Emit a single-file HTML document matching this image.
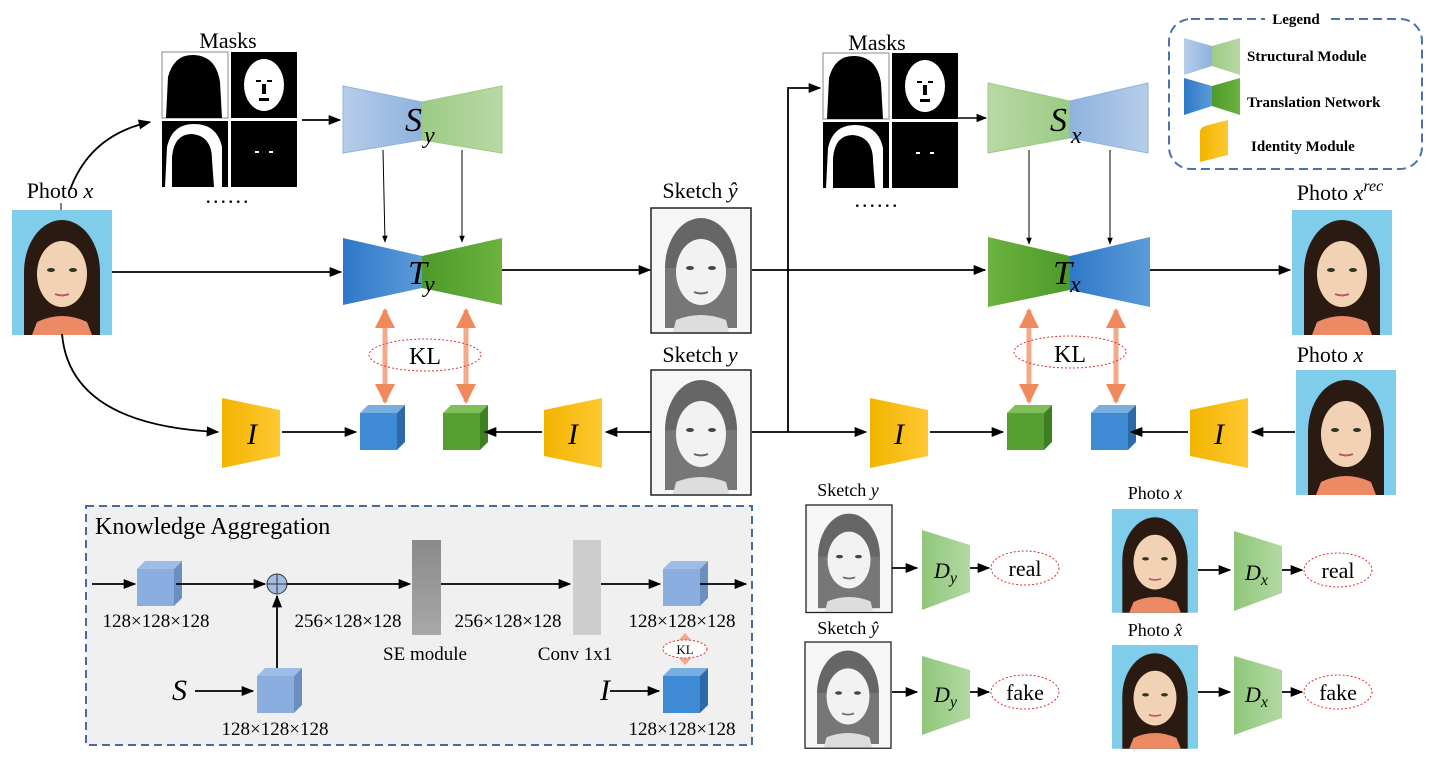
<!DOCTYPE html>
<html><head><meta charset="utf-8"><style>html,body{margin:0;padding:0;background:#fff}svg{display:block}text{font-family:"Liberation Serif",serif}</style></head>
<body>
<svg width="1431" height="757" viewBox="0 0 1431 757" xmlns="http://www.w3.org/2000/svg">
<defs>
<linearGradient id="lb" x1="0" x2="1"><stop offset="0" stop-color="#b6cde9"/><stop offset="1" stop-color="#8fb2dd"/></linearGradient>
<linearGradient id="lbr" x1="1" x2="0"><stop offset="0" stop-color="#b6cde9"/><stop offset="1" stop-color="#8fb2dd"/></linearGradient>
<linearGradient id="lg" x1="1" x2="0"><stop offset="0" stop-color="#b9d8a6"/><stop offset="1" stop-color="#9ccb85"/></linearGradient>
<linearGradient id="lgl" x1="0" x2="1"><stop offset="0" stop-color="#b9d8a6"/><stop offset="1" stop-color="#9ccb85"/></linearGradient>
<linearGradient id="db" x1="0" x2="1"><stop offset="0" stop-color="#2f78c8"/><stop offset="1" stop-color="#5b9bd8"/></linearGradient>
<linearGradient id="dbr" x1="1" x2="0"><stop offset="0" stop-color="#5b9bd8"/><stop offset="1" stop-color="#2f78c8"/></linearGradient>
<linearGradient id="dg" x1="0" x2="1"><stop offset="0" stop-color="#4c9a2a"/><stop offset="1" stop-color="#6cb23f"/></linearGradient>
<linearGradient id="dgl" x1="0" x2="1"><stop offset="0" stop-color="#6cb23f"/><stop offset="1" stop-color="#4c9a2a"/></linearGradient>
<linearGradient id="yl" x1="0" x2="1"><stop offset="0" stop-color="#f2b400"/><stop offset="1" stop-color="#ffc832"/></linearGradient>
<linearGradient id="dgr" x1="0" x2="1"><stop offset="0" stop-color="#8fc77a"/><stop offset="1" stop-color="#b3d9a2"/></linearGradient>
<linearGradient id="se" x1="0" x2="0" y1="0" y2="1"><stop offset="0" stop-color="#8a8a8a"/><stop offset="1" stop-color="#a8a8a8"/></linearGradient>
<marker id="a" viewBox="0 0 10 10" refX="9" refY="5" markerWidth="7" markerHeight="7" orient="auto"><path d="M0,1 L10,5 L0,9 z" fill="#000"/></marker>
<marker id="oa" viewBox="0 0 10 10" refX="9" refY="5" markerWidth="4" markerHeight="4" orient="auto-start-reverse"><path d="M0,0 L10,5 L0,10 z" fill="#f08a5d"/></marker>
<g id="photo">
<rect width="100" height="125" fill="#7fcdea"/>
<ellipse cx="50" cy="62" rx="38" ry="52" fill="#2a1a12"/>
<rect x="12" y="62" width="76" height="63" fill="#2a1a12"/>
<ellipse cx="50" cy="64" rx="25" ry="33" fill="#f2d2b4"/>
<path d="M25,112 Q50,100 75,112 L80,125 L20,125z" fill="#ec8a66"/>
<ellipse cx="39" cy="60" rx="4" ry="2" fill="#332"/><ellipse cx="61" cy="60" rx="4" ry="2" fill="#332"/>
<path d="M43,84 Q50,87 57,84" stroke="#b56" stroke-width="2" fill="none"/>
</g>
<g id="sketch">
<rect width="100" height="125" fill="#f6f6f6" stroke="#222" stroke-width="1.5"/>
<ellipse cx="50" cy="60" rx="36" ry="50" fill="#666"/>
<rect x="14" y="60" width="72" height="60" fill="#777"/>
<ellipse cx="50" cy="64" rx="25" ry="33" fill="#f2f2f2"/>
<path d="M25,112 Q50,102 75,112 L78,124 L22,124z" fill="#ddd"/>
<ellipse cx="39" cy="60" rx="4" ry="2" fill="#444"/><ellipse cx="61" cy="60" rx="4" ry="2" fill="#444"/>
<path d="M43,84 Q50,87 57,84" stroke="#666" stroke-width="2" fill="none"/>
</g>
<g id="masks">
<rect x="0" y="0" width="66" height="66" fill="#fff" stroke="#888"/>
<path d="M4,66 L6,25 Q12,2 32,3 Q54,4 58,30 L60,66z" fill="#000"/>
<rect x="69" y="0" width="66" height="66" fill="#000"/>
<ellipse cx="102" cy="33" rx="20" ry="26" fill="#fff"/>
<rect x="94" y="28" width="5" height="2" fill="#000"/><rect x="105" y="28" width="5" height="2" fill="#000"/><rect x="100" y="32" width="4" height="10" fill="#000"/><rect x="97" y="46" width="10" height="3" fill="#000"/>
<rect x="0" y="69" width="66" height="66" fill="#000"/>
<path d="M3,135 L5,95 Q10,72 32,72 Q55,72 60,95 L60,135z" fill="#fff"/>
<path d="M10,135 L10,105 Q12,82 30,82 Q50,84 50,108 L52,135z" fill="#000"/>
<rect x="69" y="69" width="66" height="66" fill="#000"/>
<rect x="93" y="99" width="4" height="2" fill="#fff"/><rect x="107" y="99" width="4" height="2" fill="#fff"/>
</g>
<g id="cubeB"><path d="M0,8 L8,0 L45,0 L37,8z" fill="#7aaee0"/><path d="M37,8 L45,0 L45,37 L37,45z" fill="#2f6aa8"/><rect x="0" y="8" width="37" height="37" fill="#3f8ad4"/></g>
<g id="cubeG"><path d="M0,8 L8,0 L45,0 L37,8z" fill="#7fbf5a"/><path d="M37,8 L45,0 L45,37 L37,45z" fill="#3e7f22"/><rect x="0" y="8" width="37" height="37" fill="#55a030"/></g>
<g id="cubeL"><path d="M0,8 L8,0 L45,0 L37,8z" fill="#9dbde6"/><path d="M37,8 L45,0 L45,37 L37,45z" fill="#6b8fc0"/><rect x="0" y="8" width="37" height="37" fill="#8aaee0"/></g>
</defs>

<!-- LEFT TOP -->
<text x="228" y="48" font-size="22" text-anchor="middle">Masks</text>
<use href="#masks" x="162" y="52"/>
<text x="228" y="203" font-size="22" text-anchor="middle" letter-spacing="2">......</text>
<text x="60" y="198" font-size="22" text-anchor="middle">Photo <tspan font-style="italic">x</tspan></text>
<use href="#photo" x="12" y="210"/>
<line x1="61" y1="203" x2="61" y2="210" stroke="#000"/>
<path d="M70,190 Q90,135 150,122" stroke="#000" stroke-width="1.8" fill="none" marker-end="url(#a)"/>
<line x1="302" y1="120" x2="340" y2="120" stroke="#000" stroke-width="1.8" marker-end="url(#a)"/>

<path d="M343,86 L422,102 L422,140 L343,153z" fill="url(#lb)" stroke="#8fb2dd"/>
<path d="M422,102 L502,86 L502,153 L422,140z" fill="url(#lg)" stroke="#9ccb85"/>
<text x="405" y="131" font-size="34" font-style="italic">S</text><text x="424" y="143" font-size="24" font-style="italic">y</text>
<line x1="383" y1="150" x2="385" y2="242" stroke="#000" marker-end="url(#a)"/>
<line x1="462" y1="150" x2="462" y2="242" stroke="#000" marker-end="url(#a)"/>
<path d="M343,238 L422,256 L422,288 L343,305z" fill="url(#db)"/>
<path d="M422,256 L502,238 L502,305 L422,288z" fill="url(#dg)"/>
<text x="408" y="284" font-size="34" font-style="italic">T</text><text x="424" y="292" font-size="24" font-style="italic">y</text>
<line x1="112" y1="272" x2="341" y2="272" stroke="#000" stroke-width="1.8" marker-end="url(#a)"/>
<line x1="502" y1="270" x2="650" y2="270" stroke="#000" stroke-width="1.8" marker-end="url(#a)"/>

<line x1="385" y1="310" x2="385" y2="402" stroke="#f4a98a" stroke-width="5" marker-start="url(#oa)" marker-end="url(#oa)"/>
<line x1="466" y1="310" x2="466" y2="402" stroke="#f4a98a" stroke-width="5" marker-start="url(#oa)" marker-end="url(#oa)"/>
<ellipse cx="425" cy="355" rx="56" ry="16" fill="none" stroke="#e03030" stroke-dasharray="2,2"/>
<text x="425" y="364" font-size="24" text-anchor="middle">KL</text>

<path d="M62,334 Q70,425 218,432" stroke="#000" stroke-width="1.8" fill="none" marker-end="url(#a)"/>
<path d="M222,398 L280,410 L280,456 L222,468z" fill="url(#yl)"/>
<text x="252" y="444" font-size="30" font-style="italic" text-anchor="middle">I</text>
<line x1="282" y1="432" x2="356" y2="432" stroke="#000" stroke-width="1.8" marker-end="url(#a)"/>
<use href="#cubeB" x="360" y="405"/>
<use href="#cubeG" x="443" y="405"/>
<path d="M544,410 L602,398 L602,468 L544,456z" fill="url(#yl)"/>
<text x="573" y="444" font-size="30" font-style="italic" text-anchor="middle">I</text>
<line x1="542" y1="432" x2="485" y2="432" stroke="#000" stroke-width="1.8" marker-end="url(#a)"/>
<line x1="652" y1="432" x2="606" y2="432" stroke="#000" stroke-width="1.8" marker-end="url(#a)"/>

<!-- sketches center -->
<text x="700" y="198" font-size="22" text-anchor="middle">Sketch <tspan font-style="italic">ŷ</tspan></text>
<use href="#sketch" x="651" y="208"/>
<text x="700" y="362" font-size="22" text-anchor="middle">Sketch <tspan font-style="italic">y</tspan></text>
<use href="#sketch" x="651" y="370"/>

<!-- RIGHT TOP -->
<line x1="752" y1="270" x2="985" y2="270" stroke="#000" stroke-width="1.8" marker-end="url(#a)"/>
<line x1="752" y1="432" x2="866" y2="432" stroke="#000" stroke-width="1.8" marker-end="url(#a)"/>
<polyline points="788,432 788,88 820,88" stroke="#000" stroke-width="1.8" fill="none" marker-end="url(#a)"/>
<text x="877" y="50" font-size="22" text-anchor="middle">Masks</text>
<use href="#masks" x="823" y="53"/>
<text x="877" y="207" font-size="22" text-anchor="middle" letter-spacing="2">......</text>
<line x1="958" y1="118" x2="986" y2="118" stroke="#000" stroke-width="1.5" marker-end="url(#a)"/>

<path d="M988,83 L1070,101 L1070,138 L988,153z" fill="url(#lgl)" stroke="#9ccb85"/>
<path d="M1070,101 L1148,83 L1148,153 L1070,138z" fill="url(#lbr)" stroke="#8fb2dd"/>
<text x="1050" y="131" font-size="34" font-style="italic">S</text><text x="1071" y="143" font-size="24" font-style="italic">x</text>
<line x1="1029" y1="150" x2="1029" y2="244" stroke="#000" marker-end="url(#a)"/>
<line x1="1110" y1="150" x2="1110" y2="244" stroke="#000" marker-end="url(#a)"/>
<path d="M988,237 L1070,256 L1070,290 L988,307z" fill="url(#dgl)"/>
<path d="M1070,256 L1150,237 L1150,307 L1070,290z" fill="url(#dbr)"/>
<text x="1053" y="284" font-size="34" font-style="italic">T</text><text x="1070" y="292" font-size="24" font-style="italic">x</text>
<line x1="1150" y1="270" x2="1290" y2="270" stroke="#000" stroke-width="1.8" marker-end="url(#a)"/>

<line x1="1029" y1="310" x2="1029" y2="402" stroke="#f4a98a" stroke-width="5" marker-start="url(#oa)" marker-end="url(#oa)"/>
<line x1="1116" y1="310" x2="1116" y2="402" stroke="#f4a98a" stroke-width="5" marker-start="url(#oa)" marker-end="url(#oa)"/>
<ellipse cx="1070" cy="352" rx="56" ry="16" fill="none" stroke="#e03030" stroke-dasharray="2,2"/>
<text x="1070" y="362" font-size="24" text-anchor="middle">KL</text>

<path d="M870,398 L928,410 L928,456 L870,468z" fill="url(#yl)"/>
<text x="899" y="444" font-size="30" font-style="italic" text-anchor="middle">I</text>
<line x1="930" y1="432" x2="1003" y2="432" stroke="#000" stroke-width="1.8" marker-end="url(#a)"/>
<use href="#cubeG" x="1007" y="405"/>
<use href="#cubeB" x="1091" y="405"/>
<path d="M1190,410 L1248,398 L1248,468 L1190,456z" fill="url(#yl)"/>
<text x="1219" y="444" font-size="30" font-style="italic" text-anchor="middle">I</text>
<line x1="1188" y1="432" x2="1131" y2="432" stroke="#000" stroke-width="1.8" marker-end="url(#a)"/>
<line x1="1295" y1="432" x2="1252" y2="432" stroke="#000" stroke-width="1.8" marker-end="url(#a)"/>

<text x="1340" y="200" font-size="22" text-anchor="middle">Photo <tspan font-style="italic">x</tspan><tspan font-style="italic" font-size="16" dy="-9">rec</tspan></text>
<use href="#photo" x="1292" y="210"/>
<text x="1330" y="362" font-size="22" text-anchor="middle">Photo <tspan font-style="italic">x</tspan></text>
<use href="#photo" x="1296" y="370"/>

<!-- Legend -->
<rect x="1169" y="19" width="253" height="150" rx="22" fill="none" stroke="#4a72b0" stroke-width="2" stroke-dasharray="9,5"/>
<rect x="1265" y="8" width="62" height="20" fill="#fff"/>
<text x="1296" y="24" font-size="15" font-weight="bold" text-anchor="middle">Legend</text>
<path d="M1184,38 L1212,46 L1212,66 L1184,75z" fill="url(#lb)"/><path d="M1212,46 L1240,38 L1240,75 L1212,66z" fill="url(#lg)"/>
<text x="1247" y="61" font-size="15" font-weight="bold">Structural Module</text>
<path d="M1184,78 L1212,86 L1212,106 L1184,115z" fill="url(#db)"/><path d="M1212,86 L1240,78 L1240,115 L1212,106z" fill="url(#dg)"/>
<text x="1247" y="107" font-size="15" font-weight="bold">Translation Network</text>
<path d="M1200,162 L1200,132 Q1200,128 1205,126 L1228,120 L1228,155z" fill="url(#yl)"/>
<text x="1251" y="151" font-size="15" font-weight="bold">Identity Module</text>

<!-- Discriminators -->
<text x="848" y="496" font-size="18" text-anchor="middle">Sketch <tspan font-style="italic">y</tspan></text>
<use href="#sketch" transform="translate(806,505) scale(0.86,0.86)"/>
<line x1="892" y1="568" x2="917" y2="568" stroke="#000" stroke-width="1.8" marker-end="url(#a)"/>
<path d="M922,530 L970,545 L970,592 L922,610z" fill="url(#dgr)"/>
<text x="934" y="578" font-size="22" font-style="italic">D<tspan font-size="16" dy="5">y</tspan></text>
<line x1="970" y1="568" x2="989" y2="568" stroke="#000" stroke-width="1.8" marker-end="url(#a)"/>
<ellipse cx="1025" cy="568" rx="34" ry="17" fill="none" stroke="#e03030" stroke-dasharray="2,2"/>
<text x="1025" y="576" font-size="22" text-anchor="middle">real</text>

<text x="848" y="634" font-size="18" text-anchor="middle">Sketch <tspan font-style="italic">ŷ</tspan></text>
<use href="#sketch" transform="translate(805,642) scale(0.86,0.85)"/>
<line x1="892" y1="692" x2="917" y2="692" stroke="#000" stroke-width="1.8" marker-end="url(#a)"/>
<path d="M922,656 L970,670 L970,718 L922,735z" fill="url(#dgr)"/>
<text x="934" y="702" font-size="22" font-style="italic">D<tspan font-size="16" dy="5">y</tspan></text>
<line x1="970" y1="692" x2="989" y2="692" stroke="#000" stroke-width="1.8" marker-end="url(#a)"/>
<ellipse cx="1025" cy="692" rx="34" ry="17" fill="none" stroke="#e03030" stroke-dasharray="2,2"/>
<text x="1025" y="700" font-size="22" text-anchor="middle">fake</text>

<text x="1155" y="499" font-size="18" text-anchor="middle">Photo <tspan font-style="italic">x</tspan></text>
<use href="#photo" transform="translate(1112,509) scale(0.86,0.83)"/>
<line x1="1198" y1="570" x2="1230" y2="570" stroke="#000" stroke-width="1.8" marker-end="url(#a)"/>
<path d="M1234,531 L1282,546 L1282,593 L1234,611z" fill="url(#dgr)"/>
<text x="1245" y="580" font-size="22" font-style="italic">D<tspan font-size="16" dy="5">x</tspan></text>
<line x1="1282" y1="570" x2="1302" y2="570" stroke="#000" stroke-width="1.8" marker-end="url(#a)"/>
<ellipse cx="1338" cy="570" rx="34" ry="17" fill="none" stroke="#e03030" stroke-dasharray="2,2"/>
<text x="1338" y="578" font-size="22" text-anchor="middle">real</text>

<text x="1155" y="636" font-size="18" text-anchor="middle">Photo <tspan font-style="italic">x̂</tspan></text>
<use href="#photo" transform="translate(1112,645) scale(0.86,0.83)"/>
<line x1="1198" y1="692" x2="1230" y2="692" stroke="#000" stroke-width="1.8" marker-end="url(#a)"/>
<path d="M1234,656 L1282,670 L1282,718 L1234,735z" fill="url(#dgr)"/>
<text x="1245" y="702" font-size="22" font-style="italic">D<tspan font-size="16" dy="5">x</tspan></text>
<line x1="1282" y1="692" x2="1302" y2="692" stroke="#000" stroke-width="1.8" marker-end="url(#a)"/>
<ellipse cx="1338" cy="692" rx="34" ry="17" fill="none" stroke="#e03030" stroke-dasharray="2,2"/>
<text x="1338" y="700" font-size="22" text-anchor="middle">fake</text>

<!-- Knowledge Aggregation -->
<rect x="86" y="506" width="666" height="239" fill="#f0f0f0" stroke="#4a6a9a" stroke-width="2" stroke-dasharray="8,5"/>
<text x="95" y="534" font-size="24">Knowledge Aggregation</text>
<line x1="92" y1="584" x2="135" y2="584" stroke="#000" stroke-width="1.8" marker-end="url(#a)"/>
<use href="#cubeL" x="137" y="561"/>
<line x1="176" y1="584" x2="265" y2="584" stroke="#000" stroke-width="1.8" marker-end="url(#a)"/>
<text x="156" y="627" font-size="19" text-anchor="middle">128×128×128</text>
<circle cx="277" cy="584" r="10" fill="#a4bde3" stroke="#333"/>
<line x1="267" y1="584" x2="287" y2="584" stroke="#333"/><line x1="277" y1="574" x2="277" y2="594" stroke="#333"/>
<line x1="287" y1="584" x2="410" y2="584" stroke="#000" stroke-width="1.8" marker-end="url(#a)"/>
<text x="348" y="627" font-size="19" text-anchor="middle">256×128×128</text>
<rect x="412" y="540" width="29" height="95" fill="url(#se)"/>
<text x="425" y="660" font-size="19" text-anchor="middle">SE module</text>
<line x1="441" y1="584" x2="570" y2="584" stroke="#000" stroke-width="1.8" marker-end="url(#a)"/>
<text x="508" y="627" font-size="19" text-anchor="middle">256×128×128</text>
<rect x="573" y="540" width="28" height="95" fill="#cdcdcd"/>
<text x="575" y="660" font-size="19" text-anchor="middle">Conv 1x1</text>
<line x1="601" y1="584" x2="660" y2="584" stroke="#000" stroke-width="1.8" marker-end="url(#a)"/>
<use href="#cubeL" x="663" y="561"/>
<line x1="700" y1="584" x2="746" y2="584" stroke="#000" stroke-width="1.8" marker-end="url(#a)"/>
<text x="682" y="627" font-size="19" text-anchor="middle">128×128×128</text>
<path d="M685,633 L693,642 L677,642z M685,665 L693,656 L677,656z" fill="#f4a98a"/>
<ellipse cx="685" cy="649" rx="22" ry="9" fill="#fff" stroke="#e03030" stroke-dasharray="2,2"/>
<text x="685" y="654" font-size="13" text-anchor="middle">KL</text>
<text x="600" y="700" font-size="30" font-style="italic">I</text>
<line x1="610" y1="691" x2="659" y2="691" stroke="#000" stroke-width="1.8" marker-end="url(#a)"/>
<use href="#cubeB" x="663" y="668"/>
<text x="682" y="735" font-size="19" text-anchor="middle">128×128×128</text>
<text x="172" y="700" font-size="30" font-style="italic">S</text>
<line x1="195" y1="691" x2="253" y2="691" stroke="#000" stroke-width="1.8" marker-end="url(#a)"/>
<use href="#cubeL" x="257" y="668"/>
<line x1="277" y1="668" x2="277" y2="596" stroke="#000" stroke-width="1.8" marker-end="url(#a)"/>
<text x="275" y="735" font-size="19" text-anchor="middle">128×128×128</text>
</svg>
</body></html>
